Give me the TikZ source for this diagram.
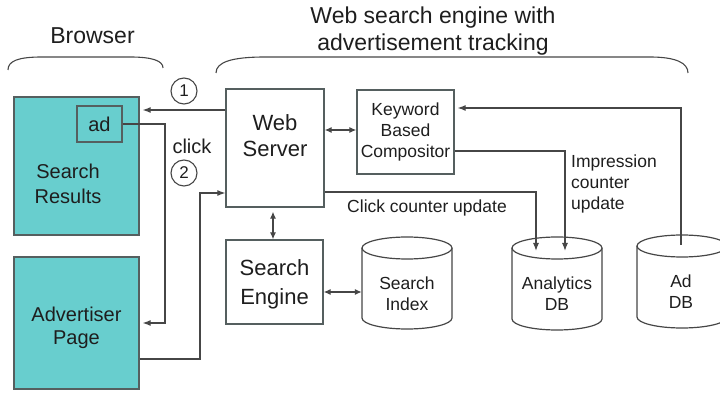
\documentclass[tikz,border=0pt]{standalone}
\usepackage{fontspec}
\setmainfont{Liberation Sans}
\usetikzlibrary{arrows.meta}
\definecolor{tealfill}{RGB}{104,206,206}
\definecolor{bgray}{RGB}{85,95,95}
\definecolor{lgray}{RGB}{70,70,70}
\definecolor{txt}{RGB}{30,30,30}
\tikzset{
  box/.style={draw=bgray, line width=1.3pt, inner sep=0pt, align=center, text=txt},
  tealbox/.style={box, fill=tealfill},
  lbl/.style={inner sep=0pt, align=center, text=txt},
  conn/.style={draw=lgray, line width=1.2pt},
  arr/.style={conn, -{Latex[length=8pt,width=6pt]}},
  darr/.style={conn, {Latex[length=7pt,width=6pt]}-{Latex[length=7pt,width=6pt]}},
  brace/.style={draw=lgray, line width=1.1pt},
  mid/.style={font=\fontsize{20}{24}\selectfont},
  small/.style={font=\fontsize{17.5}{21}\selectfont},
  numcirc/.style={circle, draw=lgray, line width=1.1pt, minimum size=26pt, inner sep=0pt, text=txt, font=\fontsize{17}{20}\selectfont},
  cyl/.style={draw=lgray, line width=1.2pt, fill=white}
}
\begin{document}
\begin{tikzpicture}[x=1pt,y=-1pt]
\useasboundingbox (0,0) rectangle (720,395);

% titles
\node[lbl, font=\fontsize{23}{27}\selectfont] (ttl) at (433,31) {Web search engine with\\advertisement tracking};
\node[lbl, font=\fontsize{23}{26}\selectfont] (brw) at (92.5,36) {Browser};

% braces
\draw[brace] (8,70) .. controls (8,61) and (18,57) .. (42,57) -- (130,57) .. controls (153,57) and (163,61) .. (163,68);
\draw[brace] (216,73) .. controls (216,62) and (232,57) .. (265,57) -- (650,57) .. controls (676,57) and (688,63) .. (688,73);

% browser boxes
\node[tealbox, minimum width=125pt, minimum height=138pt] (sr) at (76.5,166) {};
\node[lbl, font=\fontsize{20}{25}\selectfont] (srt) at (68,184) {Search\\Results};
\node[box, mid, minimum width=45pt, minimum height=36pt] (ad) at (99.5,124) {ad};
\node[tealbox, minimum width=125pt, minimum height=132pt] (ap) at (76.5,323) {};
\node[lbl, font=\fontsize{20}{23}\selectfont] (apt) at (76.5,328) {Advertiser\\Page};

% server side boxes
\node[box, minimum width=98pt, minimum height=118pt] (ws) at (275,148) {};
\node[lbl, font=\fontsize{22}{26}\selectfont] (wst) at (275,136) {Web\\Server};
\node[box, small, minimum width=97pt, minimum height=84pt] (kb) at (405.5,132) {Keyword\\Based\\Compositor};
\node[box, font=\fontsize{22}{29}\selectfont, minimum width=97pt, minimum height=84pt] (se) at (274.5,282) {};
\node[lbl, font=\fontsize{22}{29}\selectfont] (set) at (274.5,284) {Search\\Engine};

% cylinders
\draw[cyl] (362,248) -- (362,318) arc[start angle=180, end angle=360, x radius=45pt, y radius=11pt] -- (452,248);
\draw[cyl] (407,248) ellipse[x radius=45pt, y radius=11pt];
\node[minimum width=90pt, minimum height=92pt, inner sep=0pt] (si) at (407,283) {};
\node[lbl, small] (sit) at (407,294) {Search\\Index};

\draw[cyl] (512,248) -- (512,319) arc[start angle=180, end angle=360, x radius=45pt, y radius=11pt] -- (602,248);
\draw[cyl] (557,248) ellipse[x radius=45pt, y radius=11pt];
\node[lbl, small] (an) at (557,294) {Analytics\\DB};

\draw[cyl] (637,246) -- (637,317) arc[start angle=180, end angle=360, x radius=45pt, y radius=11pt] -- (727,246);
\draw[cyl] (682,246) ellipse[x radius=45pt, y radius=11pt];
\node[lbl, small] (adb) at (681,292) {Ad\\DB};

% labels
\node[numcirc] (c1) at (184,91) {1};
\node[numcirc] (c2) at (184,173) {2};
\node[lbl, mid] (clk) at (192,146) {click};
\node[lbl, small] (ccu) at (427,208) {Click counter update};
\node[lbl, small, anchor=west, align=left] (icu) at (571,184) {Impression\\counter\\update};

% helper coordinates
\coordinate (y110) at (0,110);
\coordinate (y130) at (0,130);
\coordinate (y151) at (0,151);
\coordinate (y192) at (0,192);
\coordinate (y108) at (0,108);
\coordinate (y292) at (0,292);
\coordinate (x273) at (273,0);
\coordinate (t1) at (165,323);
\coordinate (t2) at (200,359);
\coordinate (t3) at (200,193);
\coordinate (t4) at (565,251);
\coordinate (t5) at (536,251);
\coordinate (t6) at (681,245);

% connectors
\draw[arr, shorten >=3pt] (ws.west |- y110) -- (sr.east |- y110);
\draw[arr, shorten >=3pt] (ad.east) -| (t1) -- (ap.east |- t1);
\draw[arr] (ap.east |- t2) -- (t2) -- (t3) -- (ws.west |- t3);
\draw[darr] (ws.east |- y130) -- (kb.west |- y130);
\draw[darr, shorten <=4pt] (ws.south -| x273) -- (se.north -| x273);
\draw[darr] (se.east |- y292) -- (si.west |- y292);
\draw[arr] (kb.east |- y151) -| (t4);
\draw[arr] (ws.east |- y192) -| (t5);
\draw[arr, shorten >=3pt] (t6) |- (kb.east |- y108);
\end{tikzpicture}
\end{document}
